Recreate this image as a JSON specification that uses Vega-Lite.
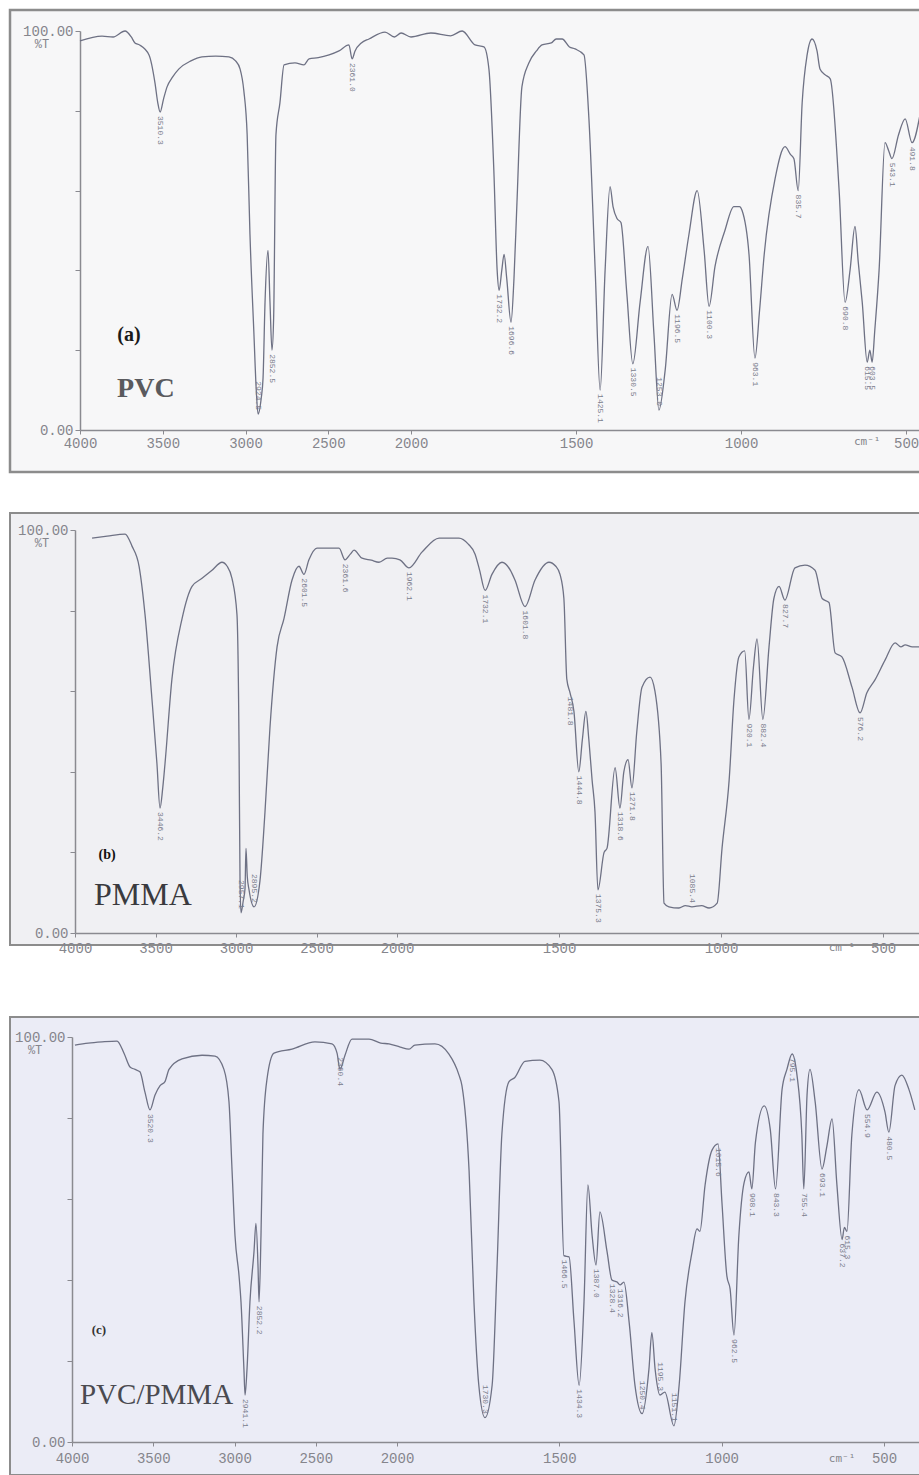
{
"$schema": "https://vega.github.io/schema/vega-lite/v6.json",
"padding": {"left": 8, "top": 8, "right": 0, "bottom": 0},
"background": "white",
"spacing": 60,
"datasets": {
"pvc": [
{"wn":4000,"t":97.5},{"wn":3867,"t":98.7},{"wn":3800,"t":98.5},{"wn":3728,"t":100},{"wn":3690,"t":98.5},{"wn":3668,"t":97},{"wn":3640,"t":96.5},{"wn":3583,"t":94},{"wn":3547,"t":87},{"wn":3530,"t":82},{"wn":3516,"t":79.7},{"wn":3495,"t":83},{"wn":3474,"t":86},{"wn":3440,"t":88.5},{"wn":3402,"t":90.5},{"wn":3330,"t":92.5},{"wn":3263,"t":93.5},{"wn":3180,"t":93.7},{"wn":3100,"t":93.5},{"wn":3060,"t":92.5},{"wn":3033,"t":90.5},{"wn":3010,"t":85},{"wn":2990,"t":74},{"wn":2973,"t":49},{"wn":2949,"t":24},{"wn":2935,"t":10},{"wn":2924,"t":4},{"wn":2905,"t":8},{"wn":2894,"t":13},{"wn":2882,"t":32},{"wn":2864,"t":45},{"wn":2852,"t":32},{"wn":2840,"t":20},{"wn":2830,"t":28},{"wn":2816,"t":74},{"wn":2792,"t":82},{"wn":2767,"t":91.5},{"wn":2701,"t":92},{"wn":2647,"t":91.5},{"wn":2616,"t":93},{"wn":2560,"t":93.3},{"wn":2495,"t":94},{"wn":2435,"t":95},{"wn":2375,"t":96.5},{"wn":2356,"t":93},{"wn":2338,"t":95},{"wn":2300,"t":97},{"wn":2254,"t":98},{"wn":2157,"t":99.7},{"wn":2100,"t":98.5},{"wn":2060,"t":99.5},{"wn":2000,"t":98.5},{"wn":1940,"t":99.5},{"wn":1880,"t":98.8},{"wn":1845,"t":100},{"wn":1806,"t":96.5},{"wn":1779,"t":96},{"wn":1764,"t":90.5},{"wn":1749,"t":65},{"wn":1739,"t":40},{"wn":1733,"t":35},{"wn":1725,"t":40},{"wn":1718,"t":44},{"wn":1710,"t":38},{"wn":1697,"t":27},{"wn":1688,"t":38},{"wn":1679,"t":57},{"wn":1664,"t":86},{"wn":1643,"t":92},{"wn":1620,"t":95},{"wn":1603,"t":96.5},{"wn":1575,"t":97},{"wn":1560,"t":98},{"wn":1542,"t":98},{"wn":1520,"t":96},{"wn":1503,"t":95.5},{"wn":1476,"t":94},{"wn":1461,"t":78},{"wn":1442,"t":40},{"wn":1427,"t":10},{"wn":1412,"t":40},{"wn":1397,"t":61},{"wn":1388,"t":56},{"wn":1376,"t":53},{"wn":1364,"t":52},{"wn":1346,"t":34},{"wn":1328,"t":16.6},{"wn":1306,"t":32},{"wn":1282,"t":46},{"wn":1264,"t":24},{"wn":1249,"t":5},{"wn":1230,"t":15},{"wn":1209,"t":34},{"wn":1194,"t":30},{"wn":1178,"t":38},{"wn":1158,"t":49},{"wn":1133,"t":60},{"wn":1112,"t":45},{"wn":1097,"t":31},{"wn":1079,"t":41},{"wn":1049,"t":50},{"wn":1022,"t":56},{"wn":1005,"t":56},{"wn":997,"t":55},{"wn":976,"t":44},{"wn":958,"t":18},{"wn":944,"t":30},{"wn":930,"t":44},{"wn":897,"t":63},{"wn":867,"t":71},{"wn":850,"t":69},{"wn":840,"t":68},{"wn":827,"t":60},{"wn":815,"t":82},{"wn":800,"t":94},{"wn":785,"t":98},{"wn":770,"t":95},{"wn":761,"t":90.5},{"wn":745,"t":89},{"wn":730,"t":88},{"wn":703,"t":60},{"wn":685,"t":32},{"wn":670,"t":40},{"wn":655,"t":51},{"wn":645,"t":42},{"wn":633,"t":32},{"wn":618,"t":17},{"wn":610,"t":20},{"wn":603,"t":17},{"wn":595,"t":25},{"wn":582,"t":40},{"wn":564,"t":72},{"wn":553,"t":70},{"wn":543,"t":68},{"wn":523,"t":74},{"wn":503,"t":78},{"wn":482,"t":72},{"wn":458,"t":79}
],
"pvc_lab_below": [
{"wn":3516,"t":79.7,"lab":"3510.3"},{"wn":2840,"t":20,"lab":"2852.5"},{"wn":2356,"t":93,"lab":"2361.0"},{"wn":1733,"t":35,"lab":"1732.2"},{"wn":1697,"t":27,"lab":"1696.6"},{"wn":1427,"t":10,"lab":"1425.1"},{"wn":1328,"t":16.6,"lab":"1330.5"},{"wn":1194,"t":30,"lab":"1196.5"},{"wn":1097,"t":31,"lab":"1100.3"},{"wn":958,"t":18,"lab":"963.1"},{"wn":827,"t":60,"lab":"835.7"},{"wn":685,"t":32,"lab":"690.8"},{"wn":618,"t":17,"lab":"615.5"},{"wn":603,"t":17,"lab":"603.5"},{"wn":543,"t":68,"lab":"543.1"},{"wn":482,"t":72,"lab":"491.8"}
],
"pvc_lab_above": [
{"wn":2924,"t":4,"lab":"2924.5"},{"wn":1249,"t":5,"lab":"1253.0"}
],
"pmma": [
{"wn":3894,"t":98},{"wn":3800,"t":98.5},{"wn":3689,"t":99},{"wn":3646,"t":96},{"wn":3602,"t":91},{"wn":3565,"t":79},{"wn":3522,"t":58},{"wn":3491,"t":42},{"wn":3472,"t":31},{"wn":3455,"t":36},{"wn":3441,"t":42},{"wn":3398,"t":63},{"wn":3335,"t":78},{"wn":3273,"t":86},{"wn":3211,"t":88},{"wn":3149,"t":90},{"wn":3087,"t":92},{"wn":3055,"t":91},{"wn":3025,"t":88},{"wn":2994,"t":79},{"wn":2981,"t":46},{"wn":2975,"t":13},{"wn":2969,"t":5},{"wn":2955,"t":8},{"wn":2944,"t":11},{"wn":2938,"t":21},{"wn":2930,"t":14},{"wn":2919,"t":10.7},{"wn":2888,"t":6.5},{"wn":2851,"t":13},{"wn":2820,"t":30},{"wn":2789,"t":51},{"wn":2745,"t":71},{"wn":2702,"t":78},{"wn":2652,"t":87.6},{"wn":2609,"t":91},{"wn":2578,"t":89},{"wn":2547,"t":92.6},{"wn":2497,"t":95.5},{"wn":2420,"t":95.5},{"wn":2360,"t":95.5},{"wn":2323,"t":92.6},{"wn":2290,"t":94},{"wn":2267,"t":95},{"wn":2217,"t":93},{"wn":2160,"t":92.5},{"wn":2112,"t":92},{"wn":2060,"t":93},{"wn":2031,"t":93},{"wn":1991,"t":92.6},{"wn":1963,"t":90.6},{"wn":1923,"t":94.5},{"wn":1870,"t":98},{"wn":1809,"t":98},{"wn":1780,"t":96.5},{"wn":1759,"t":94},{"wn":1745,"t":90},{"wn":1728,"t":85},{"wn":1707,"t":89},{"wn":1676,"t":92},{"wn":1650,"t":90},{"wn":1636,"t":87.6},{"wn":1605,"t":81},{"wn":1574,"t":87.6},{"wn":1531,"t":92},{"wn":1510,"t":91},{"wn":1497,"t":89},{"wn":1485,"t":83},{"wn":1476,"t":63},{"wn":1466,"t":59.6},{"wn":1454,"t":55},{"wn":1439,"t":40},{"wn":1428,"t":48},{"wn":1417,"t":55},{"wn":1408,"t":48},{"wn":1398,"t":38},{"wn":1389,"t":30},{"wn":1380,"t":10.7},{"wn":1361,"t":20},{"wn":1352,"t":21},{"wn":1327,"t":41},{"wn":1312,"t":31},{"wn":1300,"t":40},{"wn":1287,"t":43},{"wn":1275,"t":36},{"wn":1260,"t":50},{"wn":1244,"t":61},{"wn":1219,"t":63.5},{"wn":1204,"t":60},{"wn":1185,"t":42},{"wn":1176,"t":7.4},{"wn":1161,"t":6.5},{"wn":1130,"t":6.2},{"wn":1110,"t":6.8},{"wn":1090,"t":6.5},{"wn":1060,"t":6.8},{"wn":1037,"t":6.2},{"wn":1012,"t":7.4},{"wn":997,"t":21},{"wn":975,"t":38},{"wn":960,"t":58},{"wn":945,"t":68.5},{"wn":927,"t":70},{"wn":914,"t":53},{"wn":900,"t":66},{"wn":889,"t":73},{"wn":871,"t":53},{"wn":852,"t":71},{"wn":837,"t":83},{"wn":821,"t":86},{"wn":803,"t":82.6},{"wn":772,"t":90.6},{"wn":741,"t":91.3},{"wn":710,"t":90},{"wn":688,"t":83},{"wn":667,"t":82},{"wn":648,"t":69.5},{"wn":627,"t":68.5},{"wn":596,"t":61},{"wn":571,"t":54.6},{"wn":550,"t":59.6},{"wn":525,"t":62.8},{"wn":494,"t":67.7},{"wn":463,"t":72},{"wn":445,"t":71},{"wn":432,"t":71.5},{"wn":410,"t":71},{"wn":389,"t":71}
],
"pmma_lab_below": [
{"wn":3472,"t":31,"lab":"3446.2"},{"wn":2578,"t":89,"lab":"2601.5"},{"wn":2323,"t":92.6,"lab":"2361.6"},{"wn":1963,"t":90.6,"lab":"1962.1"},{"wn":1728,"t":85,"lab":"1732.1"},{"wn":1605,"t":81,"lab":"1601.8"},{"wn":1466,"t":59.6,"lab":"1481.8"},{"wn":1439,"t":40,"lab":"1444.8"},{"wn":1380,"t":10.7,"lab":"1375.3"},{"wn":1312,"t":31,"lab":"1318.6"},{"wn":1275,"t":36,"lab":"1271.8"},{"wn":914,"t":53,"lab":"920.1"},{"wn":871,"t":53,"lab":"882.4"},{"wn":803,"t":82.6,"lab":"827.7"},{"wn":571,"t":54.6,"lab":"576.2"}
],
"pmma_lab_above": [
{"wn":2969,"t":5,"lab":"2957.1"},{"wn":2888,"t":6.5,"lab":"2895.2"},{"wn":1090,"t":6.5,"lab":"1085.4"}
],
"blend": [
{"wn":3982,"t":98},{"wn":3900,"t":98.5},{"wn":3815,"t":98.8},{"wn":3723,"t":99},{"wn":3680,"t":96},{"wn":3643,"t":92.6},{"wn":3612,"t":92},{"wn":3582,"t":91.4},{"wn":3551,"t":86.4},{"wn":3520,"t":82},{"wn":3489,"t":85.7},{"wn":3458,"t":88},{"wn":3428,"t":89},{"wn":3403,"t":92},{"wn":3323,"t":94.6},{"wn":3200,"t":95.5},{"wn":3120,"t":95.3},{"wn":3065,"t":92},{"wn":3034,"t":84},{"wn":3015,"t":67},{"wn":2997,"t":51},{"wn":2972,"t":41},{"wn":2960,"t":34.6},{"wn":2942,"t":18},{"wn":2935,"t":11.6},{"wn":2923,"t":18},{"wn":2905,"t":34.6},{"wn":2880,"t":47},{"wn":2868,"t":54},{"wn":2855,"t":43},{"wn":2849,"t":34.6},{"wn":2837,"t":51},{"wn":2825,"t":76},{"wn":2800,"t":89.6},{"wn":2757,"t":96},{"wn":2646,"t":97},{"wn":2505,"t":98.8},{"wn":2400,"t":98.3},{"wn":2369,"t":96},{"wn":2351,"t":92},{"wn":2320,"t":95.5},{"wn":2277,"t":99.5},{"wn":2172,"t":99.5},{"wn":2100,"t":98.5},{"wn":2049,"t":98.3},{"wn":1990,"t":97.5},{"wn":1963,"t":97},{"wn":1945,"t":98},{"wn":1883,"t":98.3},{"wn":1840,"t":95.8},{"wn":1809,"t":90.6},{"wn":1800,"t":88},{"wn":1778,"t":67},{"wn":1763,"t":34.6},{"wn":1748,"t":14},{"wn":1729,"t":6},{"wn":1707,"t":14},{"wn":1692,"t":43},{"wn":1677,"t":76},{"wn":1655,"t":89},{"wn":1637,"t":90},{"wn":1606,"t":94},{"wn":1560,"t":94.3},{"wn":1523,"t":92},{"wn":1501,"t":84},{"wn":1486,"t":46},{"wn":1470,"t":45.7},{"wn":1455,"t":30},{"wn":1439,"t":14},{"wn":1424,"t":34.6},{"wn":1412,"t":63.5},{"wn":1399,"t":51},{"wn":1387,"t":43.7},{"wn":1375,"t":56.8},{"wn":1353,"t":47},{"wn":1338,"t":40},{"wn":1322,"t":39.5},{"wn":1313,"t":38.8},{"wn":1301,"t":39.5},{"wn":1285,"t":29.6},{"wn":1267,"t":14},{"wn":1245,"t":7},{"wn":1224,"t":18},{"wn":1215,"t":27},{"wn":1205,"t":18},{"wn":1190,"t":11.6},{"wn":1175,"t":12.3},{"wn":1147,"t":4},{"wn":1131,"t":14},{"wn":1113,"t":34.6},{"wn":1091,"t":47},{"wn":1076,"t":52.6},{"wn":1067,"t":52},{"wn":1051,"t":63.5},{"wn":1030,"t":72},{"wn":1011,"t":73.6},{"wn":999,"t":59},{"wn":984,"t":41},{"wn":974,"t":37.8},{"wn":962,"t":26.4},{"wn":947,"t":51},{"wn":931,"t":64},{"wn":916,"t":66.7},{"wn":907,"t":62.5},{"wn":896,"t":74},{"wn":869,"t":83},{"wn":850,"t":77},{"wn":834,"t":62.5},{"wn":814,"t":87},{"wn":799,"t":92},{"wn":783,"t":95.8},{"wn":768,"t":90.6},{"wn":753,"t":75.8},{"wn":747,"t":62.5},{"wn":737,"t":85.7},{"wn":728,"t":92},{"wn":712,"t":84},{"wn":691,"t":67.4},{"wn":676,"t":73},{"wn":660,"t":79.8},{"wn":645,"t":63.5},{"wn":629,"t":50},{"wn":622,"t":53},{"wn":614,"t":52},{"wn":599,"t":75.8},{"wn":577,"t":87},{"wn":552,"t":82},{"wn":522,"t":86.4},{"wn":497,"t":81.5},{"wn":485,"t":76.5},{"wn":466,"t":88},{"wn":445,"t":90.6},{"wn":423,"t":87},{"wn":405,"t":82}
],
"blend_lab_below": [
{"wn":3520,"t":82,"lab":"3520.3"},{"wn":2935,"t":11.6,"lab":"2941.1"},{"wn":2849,"t":34.6,"lab":"2852.2"},{"wn":2351,"t":96,"lab":"2360.4"},{"wn":1486,"t":46,"lab":"1466.5"},{"wn":1439,"t":14,"lab":"1434.3"},{"wn":1387,"t":43.7,"lab":"1387.0"},{"wn":1338,"t":40,"lab":"1328.4"},{"wn":1313,"t":38.8,"lab":"1316.2"},{"wn":1011,"t":73.6,"lab":"1015.6"},{"wn":962,"t":26.4,"lab":"962.5"},{"wn":907,"t":62.5,"lab":"908.1"},{"wn":834,"t":62.5,"lab":"843.3"},{"wn":783,"t":95.8,"lab":"795.1"},{"wn":747,"t":62.5,"lab":"755.4"},{"wn":691,"t":67.4,"lab":"693.1"},{"wn":629,"t":50,"lab":"637.2"},{"wn":614,"t":52,"lab":"615.3"},{"wn":552,"t":82,"lab":"554.9"},{"wn":485,"t":76.5,"lab":"480.5"}
],
"blend_lab_above": [
{"wn":1729,"t":6,"lab":"1730.3"},{"wn":1245,"t":7,"lab":"1250.4"},{"wn":1190,"t":11.6,"lab":"1195.3"},{"wn":1147,"t":4,"lab":"1151.1"}
]
},
"config": {
"axis": {"grid": false, "domainColor": "#8a8a90", "domainWidth": 1.5, "tickColor": "#8a8a90", "labelColor": "#85858c", "labelFont": "Liberation Mono", "labelFontSize": 14, "labelOverlap": false, "labelFlush": false}
},
"vconcat": [
{
"spacing": 38,
"vconcat": [
{
"width": 911, "height": 462,
"view": {"fill": "#f7f7f8", "stroke": "#8c8c8c", "strokeWidth": 2.5},
"encoding": {
"x": {"field": "wn", "type": "quantitative", "scale": {"domain": [4000, 2000, 455], "range": [70, 401, 911], "zero": false, "nice": false},
 "axis": {"title": null, "values": [4000,3500,3000,2500,2000,1500,1000,500], "format": "d", "offset": -42, "tickSize": 4, "labelPadding": 2}},
"y": {"field": "t", "type": "quantitative", "scale": {"domain": [0, 100], "range": [420, 21], "zero": false, "nice": false},
 "axis": {"title": null, "values": [0,20,40,60,80,100], "labelExpr": "datum.value == 100 ? '100.00' : (datum.value == 0 ? '0.00' : '')", "offset": -70, "tickSize": 5, "labelPadding": 2}}
},
"layer": [
{"data": {"name": "pvc"}, "mark": {"type": "line", "color": "#6e7184", "strokeWidth": 1.3, "interpolate": "monotone"}},
{"data": {"name": "pvc_lab_below"}, "mark": {"type": "text", "angle": 90, "align": "left", "baseline": "middle", "dx": 4, "font": "Liberation Mono", "fontSize": 8, "color": "#7a7c8c"}, "encoding": {"text": {"field": "lab"}}},
{"data": {"name": "pvc_lab_above"}, "mark": {"type": "text", "angle": 90, "align": "right", "baseline": "middle", "dx": -4, "font": "Liberation Mono", "fontSize": 8, "color": "#7a7c8c"}, "encoding": {"text": {"field": "lab"}}},
{"data": {"values": [{"wn": 3704, "t": 23.8, "lab": "(a)"}]}, "mark": {"type": "text", "font": "Liberation Serif", "fontWeight": "bold", "fontSize": 20, "color": "#1a1a1a", "align": "center", "baseline": "middle"}, "encoding": {"text": {"field": "lab"}}},
{"data": {"values": [{"wn": 3776, "t": 10.3, "lab": "PVC"}]}, "mark": {"type": "text", "font": "Liberation Serif", "fontWeight": "bold", "fontSize": 28, "color": "#5a5a5e", "align": "left", "baseline": "middle"}, "encoding": {"text": {"field": "lab"}}},
{"data": {"values": [{"wn": 4230, "t": 96.7, "lab": "%T"}]}, "mark": {"type": "text", "font": "Liberation Mono", "fontSize": 12, "color": "#85858c", "align": "center", "baseline": "middle"}, "encoding": {"text": {"field": "lab"}}},
{"data": {"values": [{"wn": 618, "t": -3, "lab": "cm⁻¹"}]}, "mark": {"type": "text", "font": "DejaVu Sans Mono", "fontSize": 11, "color": "#85858c", "align": "center", "baseline": "middle"}, "encoding": {"text": {"field": "lab"}}}
]
},
{
"width": 911, "height": 432,
"view": {"fill": "#f0f0f3", "stroke": "#8c8c8c", "strokeWidth": 2},
"encoding": {
"x": {"field": "wn", "type": "quantitative", "scale": {"domain": [4000, 2000, 383], "range": [65, 387, 911], "zero": false, "nice": false},
 "axis": {"title": null, "values": [4000,3500,3000,2500,2000,1500,1000,500], "format": "d", "offset": -12, "tickSize": 4, "labelPadding": 4}},
"y": {"field": "t", "type": "quantitative", "scale": {"domain": [0, 100], "range": [420, 17], "zero": false, "nice": false},
 "axis": {"title": null, "values": [0,20,40,60,80,100], "labelExpr": "datum.value == 100 ? '100.00' : (datum.value == 0 ? '0.00' : '')", "offset": -65, "tickSize": 5, "labelPadding": 2}}
},
"layer": [
{"data": {"name": "pmma"}, "mark": {"type": "line", "color": "#6e7184", "strokeWidth": 1.3, "interpolate": "monotone"}},
{"data": {"name": "pmma_lab_below"}, "mark": {"type": "text", "angle": 90, "align": "left", "baseline": "middle", "dx": 4, "font": "Liberation Mono", "fontSize": 8, "color": "#7a7c8c"}, "encoding": {"text": {"field": "lab"}}},
{"data": {"name": "pmma_lab_above"}, "mark": {"type": "text", "angle": 90, "align": "right", "baseline": "middle", "dx": -4, "font": "Liberation Mono", "fontSize": 8, "color": "#7a7c8c"}, "encoding": {"text": {"field": "lab"}}},
{"data": {"values": [{"wn": 3801, "t": 19.4, "lab": "(b)"}]}, "mark": {"type": "text", "font": "Liberation Serif", "fontWeight": "bold", "fontSize": 14, "color": "#111111", "align": "center", "baseline": "middle"}, "encoding": {"text": {"field": "lab"}}},
{"data": {"values": [{"wn": 3882, "t": 9.4, "lab": "PMMA"}]}, "mark": {"type": "text", "font": "Liberation Serif", "fontSize": 32, "color": "#3a3a3e", "align": "left", "baseline": "middle"}, "encoding": {"text": {"field": "lab"}}},
{"data": {"values": [{"wn": 4205, "t": 96.8, "lab": "%T"}]}, "mark": {"type": "text", "font": "Liberation Mono", "fontSize": 12, "color": "#85858c", "align": "center", "baseline": "middle"}, "encoding": {"text": {"field": "lab"}}},
{"data": {"values": [{"wn": 627, "t": -3.7, "lab": "cm⁻¹"}]}, "mark": {"type": "text", "font": "DejaVu Sans Mono", "fontSize": 11, "color": "#85858c", "align": "center", "baseline": "middle"}, "encoding": {"text": {"field": "lab"}}}
]
}
]
},
{
"width": 911, "height": 458,
"view": {"fill": "#ebecf6", "stroke": "#8c8c8c", "strokeWidth": 2},
"encoding": {
"x": {"field": "wn", "type": "quantitative", "scale": {"domain": [4000, 2000, 386], "range": [62, 387, 911], "zero": false, "nice": false},
 "axis": {"title": null, "values": [4000,3500,3000,2500,2000,1500,1000,500], "format": "d", "offset": -33, "tickSize": 4, "labelPadding": 5}},
"y": {"field": "t", "type": "quantitative", "scale": {"domain": [0, 100], "range": [425, 20], "zero": false, "nice": false},
 "axis": {"title": null, "values": [0,20,40,60,80,100], "labelExpr": "datum.value == 100 ? '100.00' : (datum.value == 0 ? '0.00' : '')", "offset": -62, "tickSize": 5, "labelPadding": 2}}
},
"layer": [
{"data": {"name": "blend"}, "mark": {"type": "line", "color": "#6e7184", "strokeWidth": 1.3, "interpolate": "monotone"}},
{"data": {"name": "blend_lab_below"}, "mark": {"type": "text", "angle": 90, "align": "left", "baseline": "middle", "dx": 4, "font": "Liberation Mono", "fontSize": 8, "color": "#7a7c8c"}, "encoding": {"text": {"field": "lab"}}},
{"data": {"name": "blend_lab_above"}, "mark": {"type": "text", "angle": 90, "align": "right", "baseline": "middle", "dx": -4, "font": "Liberation Mono", "fontSize": 8, "color": "#7a7c8c"}, "encoding": {"text": {"field": "lab"}}},
{"data": {"values": [{"wn": 3834, "t": 27.6, "lab": "(c)"}]}, "mark": {"type": "text", "font": "Liberation Serif", "fontWeight": "bold", "fontSize": 13, "color": "#333333", "align": "center", "baseline": "middle"}, "encoding": {"text": {"field": "lab"}}},
{"data": {"values": [{"wn": 3951, "t": 11.6, "lab": "PVC/PMMA"}]}, "mark": {"type": "text", "font": "Liberation Serif", "fontSize": 29, "color": "#4a4a50", "align": "left", "baseline": "middle"}, "encoding": {"text": {"field": "lab"}}},
{"data": {"values": [{"wn": 4227, "t": 96.8, "lab": "%T"}]}, "mark": {"type": "text", "font": "Liberation Mono", "fontSize": 12, "color": "#85858c", "align": "center", "baseline": "middle"}, "encoding": {"text": {"field": "lab"}}},
{"data": {"values": [{"wn": 629, "t": -4.2, "lab": "cm⁻¹"}]}, "mark": {"type": "text", "font": "DejaVu Sans Mono", "fontSize": 11, "color": "#85858c", "align": "center", "baseline": "middle"}, "encoding": {"text": {"field": "lab"}}}
]
}
]
}
